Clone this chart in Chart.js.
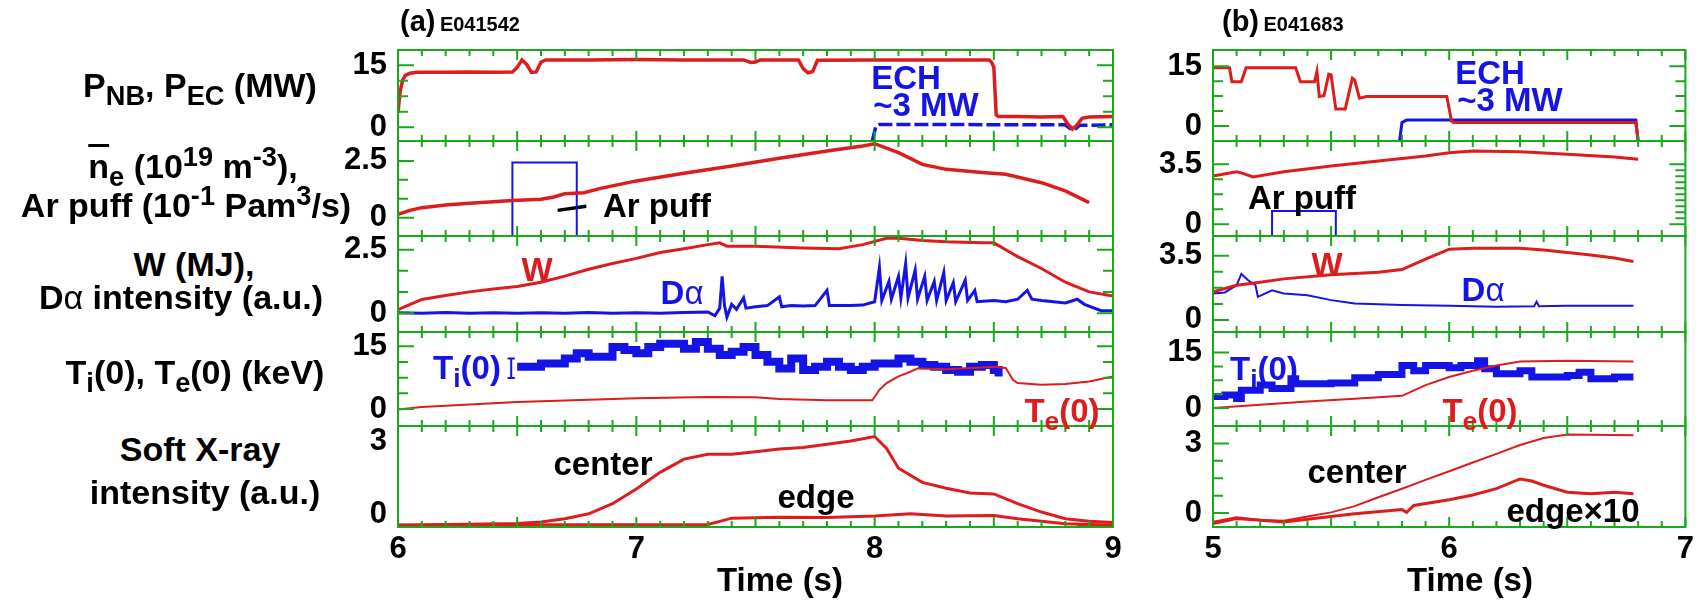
<!DOCTYPE html>
<html lang="en">
<head>
<meta charset="UTF-8" />
<title>Discharge waveforms E041542 / E041683</title>
<script src="https://cdn.jsdelivr.net/npm/chart.js"></script>
<style>
  body { margin: 0; background: #fff; font-family: 'Liberation Sans', Arial, sans-serif; }
  #fig { position: relative; width: 1698px; height: 610px; overflow: hidden; }
  canvas { position: absolute; top: 0; }
  .t {
    position: absolute; transform: translate(-50%, -50%);
    white-space: nowrap; font-weight: bold; font-size: 33px; line-height: 1; color: #000;
  }
  .lab { font-size: 34px; }
  .t sub, .t sup { font-size: 0.8em; line-height: 0; position: relative; vertical-align: baseline; }
  .t sub { top: 0.3em; }
  .t sup { top: -0.45em; }
  .red { color: #dd1c1c; }
  .blue { color: #1414e6; }
  .ttl { position: absolute; top: 5px; font-weight: bold; white-space: nowrap; }
  .ttl b { font-size: 29px; }
  .ttl span { font-size: 20px; }
  .alpha { font-weight: normal; }
</style>
</head>
<body>
<div id="fig">
  <canvas id="colA" width="830" height="610" style="left:300px"></canvas>
  <canvas id="colB" width="568" height="610" style="left:1130px"></canvas>

  <!-- left axis titles -->
  <div class="t lab" style="left:200px;top:85px">P<sub>NB</sub>, P<sub>EC</sub> (MW)</div>
  <div class="t lab" style="left:193px;top:166px"><span style="text-decoration:overline">n</span><sub>e</sub> (10<sup>19</sup> m<sup>-3</sup>),</div>
  <div class="t lab" style="left:186px;top:205px">Ar puff (10<sup>-1</sup> Pam<sup>3</sup>/s)</div>
  <div class="t lab" style="left:194px;top:264px">W (MJ),</div>
  <div class="t lab" style="left:181px;top:297px">D<span class="alpha">α</span> intensity (a.u.)</div>
  <div class="t lab" style="left:195px;top:372px">T<sub>i</sub>(0), T<sub>e</sub>(0) (keV)</div>
  <div class="t lab" style="left:200px;top:449px">Soft X-ray</div>
  <div class="t lab" style="left:205px;top:492px">intensity (a.u.)</div>

  <div class="ttl" style="left:400px"><b>(a)</b> <span>E041542</span></div>
  <div class="ttl" style="left:1222px"><b>(b)</b> <span>E041683</span></div>

  <!-- time axis titles -->
  <div class="t" style="left:780px;top:579px">Time (s)</div>
  <div class="t" style="left:1470px;top:579px">Time (s)</div>

  <!-- annotations, panel (a) -->
  <div class="t blue" style="left:906px;top:77px">ECH</div>
  <div class="t blue" style="left:926px;top:104px">~3 MW</div>
  <div class="t" style="left:657px;top:205px">Ar puff</div>
  <div class="t red" style="left:537px;top:269px">W</div>
  <div class="t blue" style="left:682px;top:292px">D<span class="alpha">α</span></div>
  <div class="t blue" style="left:467px;top:367px">T<sub>i</sub>(0)</div>
  <div class="t red" style="left:1062px;top:410px">T<sub>e</sub>(0)</div>
  <div class="t" style="left:603px;top:463px">center</div>
  <div class="t" style="left:816px;top:496px">edge</div>

  <!-- annotations, panel (b) -->
  <div class="t blue" style="left:1490px;top:72px">ECH</div>
  <div class="t blue" style="left:1510px;top:99px">~3 MW</div>
  <div class="t" style="left:1302px;top:197px">Ar puff</div>
  <div class="t red" style="left:1327px;top:264px">W</div>
  <div class="t blue" style="left:1483px;top:289px">D<span class="alpha">α</span></div>
  <div class="t blue" style="left:1264px;top:368px">T<sub>i</sub>(0)</div>
  <div class="t red" style="left:1480px;top:410px">T<sub>e</sub>(0)</div>
  <div class="t" style="left:1357px;top:471px">center</div>
  <div class="t" style="left:1573px;top:510px">edge×10</div>
</div>

<script>
  // ---------- shot E041542 (left) ----------
  const xLabelsA = [6, 7, 8, 9];

  const pnbAT = [6.0, 6.005, 6.01, 6.02, 6.03, 6.05, 6.08, 6.2, 6.3, 6.4, 6.48, 6.5, 6.52, 6.54, 6.56, 6.58, 6.6, 6.62, 6.8, 7.0, 7.2, 7.45, 7.48, 7.5, 7.52, 7.68, 7.7, 7.72, 7.74, 7.76, 8.0, 8.2, 8.48, 8.49, 8.5, 8.51, 8.52, 8.6, 8.7, 8.79, 8.81, 8.83, 8.85, 8.87, 8.9, 9.0];
  const pnbAV = [3.5, 6.5, 9.0, 11.5, 12.5, 13.1, 13.3, 13.3, 13.4, 13.3, 13.4, 14.5, 16.3, 15.2, 13.3, 13.4, 15.8, 16.3, 16.3, 16.4, 16.3, 16.3, 15.7, 15.8, 16.3, 16.3, 14.2, 13.2, 13.5, 16.2, 16.3, 16.3, 16.3, 15.8, 14.5, 3.0, 2.6, 2.6, 2.5, 2.6, 0.8, -0.4, 0.6, 2.2, 2.5, 2.6];
  const echAT = [7.99, 8.005, 8.02, 8.3, 8.6, 8.8, 8.82, 8.84, 8.86, 9.0];
  const echAV = [-3.3, 0.2, 0.7, 0.7, 0.6, 0.6, -0.3, -0.5, 0.5, 0.6];

  const neAT = [6.0, 6.05, 6.1, 6.2, 6.3, 6.4, 6.48, 6.6, 6.65, 6.7, 6.78, 6.85, 7.0, 7.2, 7.4, 7.6, 7.8, 7.95, 8.0, 8.1, 8.2, 8.3, 8.45, 8.55, 8.7, 8.8, 8.9];
  const neAV = [0.15, 0.32, 0.44, 0.56, 0.63, 0.7, 0.76, 0.81, 0.9, 1.05, 1.1, 1.29, 1.62, 1.96, 2.28, 2.62, 2.94, 3.16, 3.26, 2.87, 2.35, 2.13, 1.99, 1.91, 1.54, 1.18, 0.66];
  const arAT = [6.48, 6.48, 6.75, 6.75];
  const arAV = [-0.81, 2.43, 2.43, -0.81];
  const ptrAT = [6.67, 6.79];
  const ptrAV = [0.32, 0.5];

  const wAT = [6.0, 6.1, 6.2, 6.3, 6.4, 6.5, 6.6, 6.7, 6.8, 6.9, 7.0, 7.1, 7.2, 7.3, 7.35, 7.38, 7.5, 7.7, 7.85, 7.95, 8.05, 8.1, 8.2, 8.3, 8.45, 8.5, 8.55, 8.6, 8.7, 8.8, 8.9, 9.0];
  const wAV = [0.14, 0.54, 0.7, 0.84, 0.95, 1.05, 1.22, 1.46, 1.73, 1.96, 2.16, 2.39, 2.54, 2.7, 2.77, 2.64, 2.64, 2.57, 2.54, 2.7, 2.95, 2.95, 2.86, 2.81, 2.77, 2.77, 2.5, 2.23, 1.76, 1.22, 0.84, 0.68];
  const daAT = [6.0, 6.1, 6.2, 6.3, 6.4, 6.5, 6.6, 6.7, 6.8, 6.9, 7.0, 7.1, 7.2, 7.3, 7.33, 7.35, 7.36, 7.37, 7.38, 7.4, 7.42, 7.45, 7.46, 7.5, 7.55, 7.6, 7.61, 7.65, 7.7, 7.75, 7.8, 7.81, 7.9, 7.95, 8.0, 8.02, 8.03, 8.06, 8.07, 8.1, 8.11, 8.13, 8.14, 8.17, 8.18, 8.21, 8.22, 8.25, 8.26, 8.29, 8.3, 8.33, 8.34, 8.38, 8.39, 8.42, 8.43, 8.5, 8.55, 8.6, 8.64, 8.66, 8.7, 8.8, 8.85, 8.88, 8.95, 9.0];
  const daAV = [0.02, 0.0, 0.03, 0.0, 0.02, 0.0, 0.02, 0.0, 0.03, 0.0, 0.02, 0.0, 0.03, 0.05, -0.1, 0.2, 1.45, 0.3, -0.15, 0.35, 0.15, 0.6, 0.2, 0.25, 0.3, 0.65, 0.25, 0.3, 0.28, 0.3, 0.9, 0.3, 0.3, 0.32, 0.45, 1.8, 0.5, 1.25, 0.55, 1.45, 0.6, 1.95, 0.6, 1.7, 0.55, 1.45, 0.5, 1.25, 0.5, 1.6, 0.5, 1.2, 0.45, 1.3, 0.5, 0.9, 0.45, 0.5, 0.45, 0.55, 0.9, 0.55, 0.5, 0.4, 0.55, 0.35, 0.1, 0.1];

  const tiAT = [6.5, 6.6, 6.7, 6.75, 6.8, 6.9, 6.95, 7.0, 7.05, 7.1, 7.2, 7.25, 7.3, 7.35, 7.4, 7.45, 7.5, 7.55, 7.6, 7.65, 7.7, 7.75, 7.8, 7.85, 7.9, 7.95, 8.0, 8.1, 8.15, 8.2, 8.25, 8.3, 8.35, 8.4, 8.45, 8.5, 8.52];
  const tiAV = [10.1, 10.9, 12.1, 13.3, 12.5, 14.8, 14.1, 13.3, 14.8, 15.6, 14.4, 16.0, 14.4, 12.9, 13.7, 14.8, 12.9, 11.3, 9.7, 12.1, 9.3, 10.1, 11.3, 10.1, 9.3, 10.1, 10.9, 12.1, 11.3, 10.5, 10.1, 9.3, 8.9, 10.1, 10.5, 9.3, 7.8];
  const errAT = [6.46, 6.49, 6.49, 6.475, 6.475, 6.475, 6.46, 6.49];
  const errAV = [12.1, 12.1, null, 12.1, 7.4, null, 7.4, 7.4];
  const teAT = [6.0, 6.1, 6.3, 6.5, 6.8, 7.0, 7.3, 7.5, 7.6, 7.8, 7.99, 8.02, 8.05, 8.1, 8.15, 8.18, 8.3, 8.45, 8.5, 8.55, 8.58, 8.6, 8.7, 8.8, 8.9, 9.0];
  const teAV = [-0.1, 0.5, 1.1, 1.7, 2.2, 2.6, 2.9, 2.8, 2.4, 2.1, 2.1, 4.6, 6.2, 7.8, 8.9, 9.7, 9.5, 9.9, 10.1, 9.8, 7.0, 6.2, 5.8, 6.0, 6.6, 7.8];

  const sxcAT = [6.0, 6.5, 6.6, 6.7, 6.8, 6.9, 7.0, 7.1, 7.2, 7.3, 7.4, 7.5, 7.6, 7.7, 7.8, 7.9, 8.0, 8.05, 8.1, 8.2, 8.3, 8.4, 8.5, 8.6, 8.7, 8.8, 8.9, 9.0];
  const sxcAV = [-0.43, -0.36, -0.3, -0.16, 0.04, 0.45, 1.05, 1.73, 2.27, 2.47, 2.47, 2.57, 2.68, 2.74, 2.88, 3.01, 3.19, 2.7, 1.9, 1.32, 1.08, 0.89, 0.85, 0.45, 0.11, -0.16, -0.27, -0.32];
  const sxeAT = [6.0, 7.3, 7.35, 7.4, 7.6, 7.8, 8.0, 8.15, 8.3, 8.5, 8.6, 8.8, 9.0];
  const sxeAV = [-0.43, -0.4, -0.27, -0.14, -0.1, -0.11, -0.05, 0.04, -0.05, -0.03, -0.16, -0.37, -0.43];
  const sxbAT = [6.0, 7.0, 7.5, 8.85, 9.0];
  const sxbAV = [-0.45, -0.45, null, -0.45, -0.45];

  // ---------- shot E041683 (right) ----------
  const xLabelsB = [5, 6, 7];

  const pnbBT = [5.0, 5.07, 5.08, 5.12, 5.14, 5.35, 5.37, 5.43, 5.44, 5.45, 5.47, 5.49, 5.5, 5.52, 5.56, 5.59, 5.6, 5.62, 5.65, 5.99, 6.01, 6.02, 6.79, 6.8];
  const pnbBV = [14.6, 14.6, 11.1, 11.1, 14.6, 14.6, 11.1, 11.1, 13.7, 7.4, 7.6, 13.0, 12.8, 4.3, 4.3, 12.0, 11.5, 7.0, 7.4, 7.4, 1.2, 0.9, 0.9, -3.7];
  const echBT = [5.79, 5.8, 5.82, 6.79, 6.8];
  const echBV = [-3.7, 0.9, 1.5, 1.5, -3.7];

  const neBT = [5.0, 5.1, 5.12, 5.17, 5.3, 5.5, 5.7, 5.9, 6.0, 6.1, 6.3, 6.5, 6.7, 6.8];
  const neBV = [2.82, 3.07, 3.0, 2.76, 3.07, 3.4, 3.7, 3.99, 4.18, 4.28, 4.24, 4.09, 3.93, 3.79];
  const arBT = [5.25, 5.25, 5.52, 5.52];
  const arBV = [-0.68, 0.78, 0.78, -0.68];

  const wBT = [5.0, 5.1, 5.2, 5.3, 5.5, 5.7, 5.8, 5.9, 6.0, 6.1, 6.3, 6.4, 6.5, 6.6, 6.7, 6.78];
  const wBV = [1.53, 1.89, 2.06, 2.24, 2.46, 2.6, 2.75, 3.32, 3.86, 3.91, 3.91, 3.82, 3.68, 3.54, 3.38, 3.19];
  const daBT = [5.0, 5.05, 5.1, 5.12, 5.15, 5.18, 5.19, 5.25, 5.3, 5.4, 5.5, 5.6, 5.8, 6.0, 6.2, 6.36, 6.37, 6.38, 6.5, 6.78];
  const daBV = [1.44, 1.5, 1.89, 2.51, 2.15, 1.89, 1.26, 1.62, 1.44, 1.35, 1.08, 0.9, 0.81, 0.77, 0.72, 0.75, 1.0, 0.75, 0.77, 0.77];

  const tiBT = [5.0, 5.05, 5.1, 5.12, 5.2, 5.25, 5.33, 5.35, 5.5, 5.6, 5.7, 5.8, 5.85, 5.9, 6.0, 6.05, 6.12, 6.15, 6.2, 6.3, 6.35, 6.5, 6.55, 6.6, 6.7, 6.78];
  const tiBV = [3.1, 3.5, 2.6, 4.8, 6.2, 5.3, 7.9, 6.6, 6.8, 8.2, 9.1, 11.5, 10.1, 11.5, 10.9, 11.5, 12.8, 10.6, 9.3, 10.1, 8.4, 8.8, 9.7, 7.9, 8.4, 8.4];
  const teBT = [5.0, 5.2, 5.4, 5.6, 5.8, 5.9, 6.0, 6.1, 6.2, 6.3, 6.5, 6.78];
  const teBV = [0.0, 0.9, 1.8, 2.5, 3.3, 6.2, 8.4, 10.1, 11.5, 12.6, 12.8, 12.6];

  const sxcBT = [5.0, 5.1, 5.2, 5.3, 5.4, 5.5, 5.6, 5.7, 5.8, 5.9, 6.0, 6.1, 6.2, 6.3, 6.4, 6.5, 6.78];
  const sxcBV = [-0.38, -0.18, -0.3, -0.33, -0.15, 0.03, 0.3, 0.68, 1.05, 1.43, 1.8, 2.18, 2.55, 2.93, 3.23, 3.38, 3.35];
  const sxeBT = [5.0, 5.1, 5.3, 5.5, 5.6, 5.8, 5.82, 5.85, 6.0, 6.1, 6.2, 6.3, 6.35, 6.4, 6.5, 6.6, 6.7, 6.78];
  const sxeBV = [-0.45, -0.23, -0.38, -0.15, -0.03, 0.15, 0.03, 0.33, 0.57, 0.78, 1.05, 1.47, 1.38, 1.2, 0.9, 0.83, 0.9, 0.83];

  // y tick values (labelled ones and the small inner marks)
  const q15 = [0, 3.75, 7.5, 11.25, 15];
  const q25 = [0, 0.833, 1.667, 2.5];
  const q35 = [0, 0.875, 1.75, 2.625, 3.5];
  const q3 = [0, 0.75, 1.5, 2.25, 3];
  const dense35 = [0, 0.35, 0.7, 1.05, 1.4, 1.75, 2.1, 2.45, 2.8, 3.15, 3.5];

  const FONT = "'Liberation Sans', Arial, sans-serif";
  const GREEN = '#1aa91a';
  const RED = '#dd1c1c';
  const BLUE = '#1414e6';
  const BROWN = '#86621f';

  Chart.defaults.font.family = FONT;
  Chart.defaults.color = '#000';

  function line(ts, vs, axis, color, width, extra) {
    return Object.assign({
      data: ts.map((t, i) => ({ x: t, y: vs[i] })),
      yAxisID: axis,
      borderColor: color,
      borderWidth: width,
      pointRadius: 0,
      fill: false,
      spanGaps: false
    }, extra || {});
  }

  // green panel frames with inward tick marks
  function framePlugin(panels) {
    return {
      id: 'frames',
      afterDatasetsDraw(chart) {
        const ctx = chart.ctx, xs = chart.scales.x;
        const left = chart.chartArea.left, right = chart.chartArea.right;
        ctx.save();
        ctx.strokeStyle = GREEN;
        ctx.lineWidth = 2;
        panels.forEach(p => {
          const ys = chart.scales[p.id];
          const top = ys.top, bot = ys.bottom;
          ctx.strokeRect(left, top, right - left, bot - top);
          ctx.beginPath();
          for (let k = Math.round(xs.min * 10); k <= Math.round(xs.max * 10); k++) {
            const px = xs.getPixelForValue(k / 10);
            const len = k % 5 === 0 ? 10 : 6;
            ctx.moveTo(px, top); ctx.lineTo(px, top + len);
            ctx.moveTo(px, bot); ctx.lineTo(px, bot - len);
          }
          p.ticks.forEach(v => {
            const py = ys.getPixelForValue(v);
            ctx.moveTo(left, py); ctx.lineTo(left + (p.labels.includes(v) ? 16 : 10), py);
          });
          p.rticks.forEach(v => {
            const py = ys.getPixelForValue(v);
            ctx.moveTo(right, py); ctx.lineTo(right - (p.labels.includes(v) ? 16 : 10), py);
          });
          ctx.stroke();
        });
        ctx.restore();
      }
    };
  }

  function buildColumn(canvasId, panels, series, xMin, xMax, xLabels, axisW, padRight) {
    const tickFont = { family: FONT, size: 31, weight: 'bold' };
    const scales = {
      x: {
        type: 'linear', position: 'bottom', min: xMin, max: xMax,
        grid: { display: false, drawTicks: false }, border: { display: false },
        ticks: { font: tickFont, color: '#000', padding: 4, maxRotation: 0, autoSkip: false },
        afterBuildTicks: s => { s.ticks = xLabels.map(v => ({ value: v })); },
        afterFit: s => { s.height = 83; }
      }
    };
    panels.forEach(p => {
      scales[p.id] = {
        type: 'linear', position: 'left', stack: 'col', stackWeight: p.h, weight: p.w,
        min: p.min, max: p.max,
        grid: { display: false, drawTicks: false }, border: { display: false },
        ticks: { font: tickFont, color: '#000', padding: 11 },
        afterBuildTicks: s => { s.ticks = p.labels.map(v => ({ value: v })); },
        afterFit: s => { s.width = axisW; }
      };
    });
    return new Chart(document.getElementById(canvasId), {
      type: 'line',
      data: { datasets: series },
      options: {
        responsive: false,
        animation: false,
        layout: { padding: { left: 0, right: padRight, top: 50, bottom: 0 } },
        plugins: { legend: { display: false }, tooltip: { enabled: false } },
        elements: { line: { tension: 0 } },
        scales: scales
      },
      plugins: [framePlugin(panels)]
    });
  }

  const panelsA = [
    { id: 'p1', h: 91, w: 5, min: -3.3, max: 18.7, labels: [0, 15], ticks: q15, rticks: q15 },
    { id: 'p2', h: 95, w: 4, min: -0.81, max: 3.38, labels: [0, 2.5], ticks: q25, rticks: [] },
    { id: 'p3', h: 96, w: 3, min: -0.74, max: 3.04, labels: [0, 2.5], ticks: q25, rticks: q25 },
    { id: 'p4', h: 94, w: 2, min: -4.05, max: 18.4, labels: [0, 15], ticks: q15, rticks: q15 },
    { id: 'p5', h: 101, w: 1, min: -0.5, max: 3.62, labels: [0, 3], ticks: [], rticks: [] }
  ];
  const panelsB = [
    { id: 'p1', h: 91, w: 5, min: -3.75, max: 19.06, labels: [0, 15], ticks: q15, rticks: q15 },
    { id: 'p2', h: 95, w: 4, min: -0.68, max: 4.86, labels: [0, 3.5], ticks: q35, rticks: dense35 },
    { id: 'p3', h: 96, w: 3, min: -0.66, max: 4.58, labels: [0, 3.5], ticks: q35, rticks: [] },
    { id: 'p4', h: 94, w: 2, min: -4.85, max: 20.56, labels: [0, 15], ticks: q15, rticks: [] },
    { id: 'p5', h: 101, w: 1, min: -0.6, max: 3.75, labels: [0, 3], ticks: q3, rticks: [] }
  ];

  buildColumn('colA', panelsA, [
    line(pnbAT, pnbAV, 'p1', RED, 3.5),
    line(echAT, echAV, 'p1', BLUE, 3.5, { borderDash: [14, 4] }),
    line(neAT, neAV, 'p2', RED, 3.5),
    line(arAT, arAV, 'p2', BLUE, 2),
    line(ptrAT, ptrAV, 'p2', '#000', 3.5),
    line(wAT, wAV, 'p3', RED, 3),
    line(daAT, daAV, 'p3', BLUE, 3),
    line(teAT, teAV, 'p4', RED, 2),
    line(tiAT, tiAV, 'p4', BLUE, 8, { stepped: true }),
    line(errAT, errAV, 'p4', BLUE, 2),
    line(sxeAT, sxeAV, 'p5', RED, 3),
    line(sxcAT, sxcAV, 'p5', RED, 3),
    line(sxbAT, sxbAV, 'p5', BROWN, 4)
  ], 6, 9, xLabelsA, 98, 17);

  buildColumn('colB', panelsB, [
    line(pnbBT, pnbBV, 'p1', RED, 3),
    line(echBT, echBV, 'p1', BLUE, 3),
    line(neBT, neBV, 'p2', RED, 3),
    line(arBT, arBV, 'p2', BLUE, 2),
    line(wBT, wBV, 'p3', RED, 3),
    line(daBT, daBV, 'p3', BLUE, 2),
    line(teBT, teBV, 'p4', RED, 2),
    line(tiBT, tiBV, 'p4', BLUE, 7, { stepped: true }),
    line(sxeBT, sxeBV, 'p5', RED, 3),
    line(sxcBT, sxcBV, 'p5', RED, 2)
  ], 5, 7, xLabelsB, 83, 10);
</script>
</body>
</html>
